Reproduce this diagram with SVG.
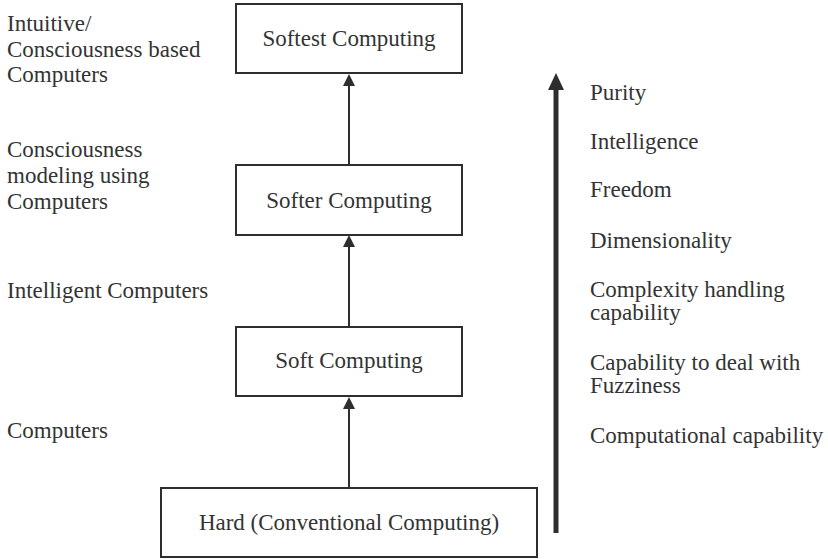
<svg xmlns="http://www.w3.org/2000/svg" width="828" height="559" viewBox="0 0 828 559">
  <style>
    .box { fill: #fff; stroke: #2e2e2e; stroke-width: 2; }
    .lbl { font-family: "Liberation Serif", "Times New Roman", serif; font-size: 23px; fill: #333; }
    .mid { text-anchor: middle; }
    .edge { stroke: #2e2e2e; stroke-width: 2; fill: none; }
    .head { fill: #2e2e2e; }
  </style>
  <rect width="828" height="559" fill="#fff"/>

  <!-- levels -->
  <g id="softest">
    <rect class="box" x="236" y="4" width="226" height="69"/>
    <text class="lbl mid" x="349" y="46">Softest Computing</text>
  </g>
  <g id="softer">
    <rect class="box" x="236" y="165" width="226" height="70"/>
    <text class="lbl mid" x="349" y="208">Softer Computing</text>
  </g>
  <g id="soft">
    <rect class="box" x="236" y="327" width="226" height="69"/>
    <text class="lbl mid" x="349" y="368">Soft Computing</text>
  </g>
  <g id="hard">
    <rect class="box" x="161" y="488" width="376" height="69"/>
    <text class="lbl mid" x="349" y="530">Hard (Conventional Computing)</text>
  </g>

  <!-- connectors between levels -->
  <g id="connectors">
    <line class="edge" x1="349" y1="165" x2="349" y2="85"/>
    <polygon class="head" points="349,74 343,86 355,86"/>
    <line class="edge" x1="349" y1="327" x2="349" y2="246"/>
    <polygon class="head" points="349,235 343,247 355,247"/>
    <line class="edge" x1="349" y1="488" x2="349" y2="408"/>
    <polygon class="head" points="349,397 343,409 355,409"/>
  </g>

  <!-- axis of increasing qualities -->
  <g id="axis">
    <line x1="556" y1="533" x2="556" y2="86" stroke="#2e2e2e" stroke-width="5"/>
    <polygon class="head" points="556,73 548,90 564,90"/>
  </g>

  <!-- left-hand descriptions -->
  <g id="left-labels">
    <text class="lbl" x="7" y="31">Intuitive/</text>
    <text class="lbl" x="7" y="57">Consciousness based</text>
    <text class="lbl" x="7" y="82">Computers</text>
    <text class="lbl" x="7" y="157">Consciousness</text>
    <text class="lbl" x="7" y="183">modeling using</text>
    <text class="lbl" x="7" y="209">Computers</text>
    <text class="lbl" x="7" y="298">Intelligent Computers</text>
    <text class="lbl" x="7" y="438">Computers</text>
  </g>

  <!-- right-hand qualities -->
  <g id="right-labels">
    <text class="lbl" x="590" y="100">Purity</text>
    <text class="lbl" x="590" y="149">Intelligence</text>
    <text class="lbl" x="590" y="197">Freedom</text>
    <text class="lbl" x="590" y="248">Dimensionality</text>
    <text class="lbl" x="590" y="297">Complexity handling</text>
    <text class="lbl" x="590" y="320">capability</text>
    <text class="lbl" x="590" y="370">Capability to deal with</text>
    <text class="lbl" x="590" y="393">Fuzziness</text>
    <text class="lbl" x="590" y="443">Computational capability</text>
  </g>
</svg>
